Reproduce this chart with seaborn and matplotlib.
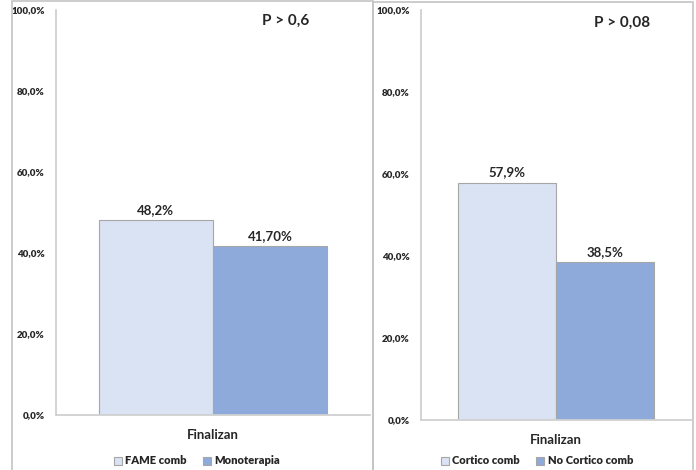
import pandas as pd
import matplotlib.pyplot as plt
import seaborn as sns
from matplotlib.patches import Rectangle

sns.set_style("white")
plt.rcParams['font.family'] = ['Lato', 'DejaVu Sans']

# datos
categoria = ["Finalizan"]
grupos_fame = ["FAME comb", "Monoterapia"]
valores_fame = [48.2, 41.7]
etiquetas_fame = ["48,2%", "41,70%"]
p_fame = "P > 0,6"

grupos_cortico = ["Cortico comb", "No Cortico comb"]
valores_cortico = [57.9, 38.5]
etiquetas_cortico = ["57,9%", "38,5%"]
p_cortico = "P > 0,08"

yticks = [0, 20, 40, 60, 80, 100]
ytick_labels = ["0,0%", "20,0%", "40,0%", "60,0%", "80,0%", "100,0%"]

colores = ["#dae3f3", "#8eaadb"]
gris = "#c4c4c4"
texto = "#262626"

fig = plt.figure(figsize=(6.96, 4.70), dpi=100)

# marcos de cada panel
fig.patches.append(Rectangle((12 / 696, -0.05), (373 - 12) / 696, 1.05 - 0.5 / 470,
                             transform=fig.transFigure, fill=False, edgecolor=gris, lw=1.2))
fig.patches.append(Rectangle((373 / 696, -0.05), (693 - 373) / 696, 1.05 - 2 / 470,
                             transform=fig.transFigure, fill=False, edgecolor=gris, lw=1.2))

ax1 = fig.add_axes([56 / 696, 55 / 470, (370 - 56) / 696, 405 / 470])
ax2 = fig.add_axes([421 / 696, 50 / 470, (691 - 421) / 696, 410 / 470])

paneles = [
    (ax1, grupos_fame, valores_fame, etiquetas_fame, p_fame, (-0.549, 0.549), (0.732, 0.974), 197),
    (ax2, grupos_cortico, valores_cortico, etiquetas_cortico, p_cortico, (-0.551, 0.551), (0.745, 0.970), 537),
]

for ax, grupos, valores, etiquetas, ptxt, xl, ppos, leg_x in paneles:
    df = pd.DataFrame({"cat": categoria * len(grupos), "grupo": grupos, "valor": valores})
    sns.barplot(data=df, x="cat", y="valor", hue="grupo", palette=colores, saturation=1,
                edgecolor="#a6a6a6", linewidth=0.8, width=0.8, ax=ax)
    for cont, lab in zip(ax.containers, etiquetas):
        ax.bar_label(cont, labels=[lab], padding=3, fontsize=9.5, fontweight="bold", color=texto)
    ax.set_ylim(0, 100)
    ax.set_xlim(*xl)
    ax.set_yticks(yticks, ytick_labels, fontweight="heavy")
    ax.tick_params(axis="y", length=0, pad=8, labelsize=7, labelcolor=texto)
    ax.set_xticks([])
    ax.set_xlabel("Finalizan", fontsize=9.5, fontweight="bold", color=texto, labelpad=10)
    ax.set_ylabel("")
    for s in ["top", "right"]:
        ax.spines[s].set_visible(False)
    for s in ["left", "bottom"]:
        ax.spines[s].set_color("#d0d0d0")
        ax.spines[s].set_linewidth(1.3)
    ax.text(ppos[0], ppos[1], ptxt, transform=ax.transAxes, ha="center", va="center",
            fontsize=11, fontweight="bold", color=texto)
    sns.move_legend(ax, "center", bbox_to_anchor=(leg_x / 696, 1 - 461 / 470),
                    bbox_transform=fig.transFigure, ncol=2, frameon=False,
                    title=None, fontsize=8, handlelength=0.7, handleheight=0.7,
                    handletextpad=0.3, columnspacing=1.5)
    for t in ax.get_legend().get_texts():
        t.set_fontweight("heavy")
        t.set_color(texto)

fig.savefig("out.png", dpi=100)
